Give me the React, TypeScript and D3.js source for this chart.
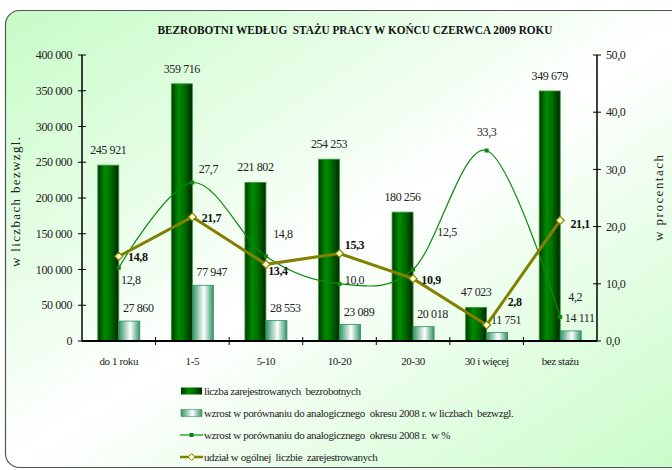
import * as d3 from 'd3';

// Bezrobotni według stażu pracy — bars (left axis) + two percentage lines (right axis).

const CATEGORIES = ['do 1 roku', '1-5', '5-10', '10-20', '20-30', '30 i więcej', 'bez stażu'];
const REGISTERED = [245921, 359716, 221802, 254253, 180256, 47023, 349679];
const INCREASE_ABS = [27860, 77947, 28553, 23089, 20018, 11751, 14111];
const INCREASE_PCT = [12.8, 27.7, 14.8, 10.0, 12.5, 33.3, 4.2];
const SHARE_PCT = [14.8, 21.7, 13.4, 15.3, 10.9, 2.8, 21.1];

const LEFT_TICKS = [0, 50000, 100000, 150000, 200000, 250000, 300000, 350000, 400000];
const RIGHT_TICKS = [0, 10, 20, 30, 40, 50];

const LEGEND_LABELS = [
  'liczba zarejestrowanych  bezrobotnych',
  'wzrost w porównaniu do analogicznego  okresu 2008 r. w liczbach  bezwzgl.',
  'wzrost w porównaniu do analogicznego  okresu 2008 r.  w %',
  'udział w ogólnej  liczbie  zarejestrowanych',
];

// label nudges (Excel placed them by hand), [dx, dy] from the point
const PCT_LABEL_OFFSETS = [[12, 12], [16, -14], [17, -23], [15, -4], [34, -38], [0, -19], [15, -20]];
const SHARE_LABEL_OFFSETS = [[19, 0], [19, 1], [12, 6], [15, -9], [18, 1], [28, -23], [20, 3]];

const W = 672;
const H = 470;
const M = { left: 82, right: 597, top: 55, bottom: 341 };

const FONT = '"Liberation Serif", "Times New Roman", serif';
const OLIVE = '#828000';
const LINE_GREEN = '#0a8a0a';
const TEXT = '#222';
const TIGHT = -0.4; // reference text is a bit condensed

const locale = d3.formatLocale({ decimal: ',', thousands: ' ', grouping: [3], currency: ['', ''] });
const fmtInt = locale.format(',d');
const fmtPct = locale.format('.1f');

export default function App() {
  const x = d3.scaleBand<string>().domain(CATEGORIES).range([M.left, M.right]);
  const sub = d3.scaleBand<string>().domain(['reg', 'inc']).range([-21, 21]);
  const yL = d3.scaleLinear().domain([0, 400000]).range([M.bottom, M.top]);
  const yR = d3.scaleLinear().domain([0, 50]).range([M.bottom, M.top]);
  const cx = (i: number) => (x(CATEGORIES[i]) ?? 0) + x.bandwidth() / 2;

  const pctLine = d3.line<number>()
    .x((_, i) => cx(i))
    .y((d) => yR(d))
    .curve(d3.curveCardinal.tension(0));
  const shareLine = d3.line<number>()
    .x((_, i) => cx(i))
    .y((d) => yR(d));

  const diamond = (px: number, py: number, r = 4) =>
    `M${px},${py - r}L${px + r},${py}L${px},${py + r}L${px - r},${py}Z`;

  const bw = sub.bandwidth();
  const legendY = [391, 413, 435, 457];

  return (
    <div style={{ position: 'absolute', left: 0, top: 0 }}>
      <svg width={W} height={H} style={{ display: 'block', fontFamily: FONT }}>
        <defs>
          <linearGradient id="bg" x1="0" y1="0" x2="1" y2="1">
            <stop offset="0" stopColor="#c6fcc6" />
            <stop offset="0.5" stopColor="#ffffff" />
            <stop offset="1" stopColor="#c6fcc6" />
          </linearGradient>
          <linearGradient id="darkBar" x1="0" y1="0" x2="1" y2="0">
            <stop offset="0" stopColor="#003a00" />
            <stop offset="0.35" stopColor="#008c00" />
            <stop offset="0.6" stopColor="#007000" />
            <stop offset="1" stopColor="#002800" />
          </linearGradient>
          <linearGradient id="lightBar" x1="0" y1="0" x2="1" y2="0">
            <stop offset="0" stopColor="#2f9466" />
            <stop offset="0.55" stopColor="#ffffff" />
            <stop offset="1" stopColor="#2f9466" />
          </linearGradient>
        </defs>

        <rect x={0} y={0} width={W} height={H} fill="#ffffff" />
        <rect x={5.5} y={10.5} width={700} height={457} rx={14} fill="url(#bg)" stroke="#555" strokeWidth={1.2} />

        <text x={355} y={34} textAnchor="middle" fontSize={13} fontWeight="bold" fill="#111"
          textLength={395} lengthAdjust="spacingAndGlyphs" style={{ whiteSpace: 'pre' }}>
          BEZROBOTNI WEDŁUG  STAŻU PRACY W KOŃCU CZERWCA 2009 ROKU
        </text>

        {/* bars */}
        {CATEGORIES.map((c, i) => (
          <g key={c}>
            <rect x={cx(i) + (sub('reg') ?? 0)} y={yL(REGISTERED[i])} width={bw}
              height={M.bottom - yL(REGISTERED[i])} fill="url(#darkBar)" stroke="#3a9a3a" strokeWidth={0.8} />
            <rect x={cx(i) + (sub('inc') ?? 0)} y={yL(INCREASE_ABS[i])} width={bw}
              height={M.bottom - yL(INCREASE_ABS[i])} fill="url(#lightBar)" stroke="#2f8f60" strokeWidth={0.8} />
          </g>
        ))}

        {/* axes */}
        <line x1={M.left} x2={M.left} y1={M.top} y2={M.bottom} stroke="#000" strokeWidth={1.5} />
        <line x1={M.right} x2={M.right} y1={M.top} y2={M.bottom} stroke="#000" strokeWidth={1.5} />
        <g letterSpacing={TIGHT}>
          {LEFT_TICKS.map((t) => (
            <g key={t}>
              <line x1={M.left - 4} x2={M.left + 4} y1={yL(t)} y2={yL(t)} stroke="#000" strokeWidth={1} />
              <text x={M.left - 10} y={yL(t)} dy="0.35em" textAnchor="end" fontSize={12} fill={TEXT}>{fmtInt(t)}</text>
            </g>
          ))}
          {RIGHT_TICKS.map((t) => (
            <g key={t}>
              <line x1={M.right - 4} x2={M.right + 4} y1={yR(t)} y2={yR(t)} stroke="#000" strokeWidth={1} />
              <text x={M.right + 9} y={yR(t)} dy="0.35em" textAnchor="start" fontSize={12} fill={TEXT}>{fmtPct(t)}</text>
            </g>
          ))}
        </g>
        <line x1={M.left} x2={M.right} y1={M.bottom} y2={M.bottom} stroke="#000" strokeWidth={2} />
        {CATEGORIES.slice(1).map((c) => (
          <line key={c} x1={x(c)} x2={x(c)} y1={M.bottom - 4} y2={M.bottom + 4} stroke="#000" strokeWidth={1} />
        ))}
        {CATEGORIES.map((c, i) => (
          <text key={c} x={cx(i)} y={361} dy="0.35em" textAnchor="middle" fontSize={11} fill={TEXT}
            letterSpacing={TIGHT}>{c}</text>
        ))}

        <text transform="translate(20,202) rotate(-90)" textAnchor="middle" fontSize={13} fill={TEXT}
          textLength={130} lengthAdjust="spacing">w liczbach bezwzgl.</text>
        <text transform="translate(663,198) rotate(-90)" textAnchor="middle" fontSize={13} fill={TEXT}
          textLength={86} lengthAdjust="spacing">w procentach</text>

        {/* bar value labels */}
        {CATEGORIES.map((c, i) => (
          <g key={c} fontSize={12} fill={TEXT} textAnchor="middle" letterSpacing={TIGHT}>
            <text x={cx(i) + (sub('reg') ?? 0) + bw / 2} y={yL(REGISTERED[i]) - 15.5} dy="0.35em">{fmtInt(REGISTERED[i])}</text>
            <text x={cx(i) + (sub('inc') ?? 0) + bw / 2 + 9} y={yL(INCREASE_ABS[i]) - 13} dy="0.35em">{fmtInt(INCREASE_ABS[i])}</text>
          </g>
        ))}

        {/* % increase line (smoothed) */}
        <path d={pctLine(INCREASE_PCT) ?? ''} fill="none" stroke={LINE_GREEN} strokeWidth={1.2} />
        {INCREASE_PCT.map((v, i) => (
          <rect key={i} x={cx(i) - 2} y={yR(v) - 2} width={4} height={4} fill={LINE_GREEN} />
        ))}

        {/* share line */}
        <path d={shareLine(SHARE_PCT) ?? ''} fill="none" stroke={OLIVE} strokeWidth={3} />
        {SHARE_PCT.map((v, i) => (
          <path key={i} d={diamond(cx(i), yR(v))} fill="#ffffc8" stroke={OLIVE} strokeWidth={1.2} />
        ))}

        <g letterSpacing={TIGHT}>
          {INCREASE_PCT.map((v, i) => (
            <text key={i} x={cx(i) + PCT_LABEL_OFFSETS[i][0]} y={yR(v) + PCT_LABEL_OFFSETS[i][1]} dy="0.35em"
              textAnchor="middle" fontSize={12} fill={TEXT}>{fmtPct(v)}</text>
          ))}
          {SHARE_PCT.map((v, i) => (
            <text key={i} x={cx(i) + SHARE_LABEL_OFFSETS[i][0]} y={yR(v) + SHARE_LABEL_OFFSETS[i][1]} dy="0.35em"
              textAnchor="middle" fontSize={12} fontWeight="bold" fill="#111">{fmtPct(v)}</text>
          ))}
        </g>

        {/* legend */}
        <g fontSize={11} fill={TEXT}>
          <rect x={181} y={legendY[0] - 3.5} width={21} height={7} fill="url(#darkBar)" />
          <rect x={181} y={legendY[1] - 3.5} width={21} height={7} fill="url(#lightBar)" stroke="#2f8f60" strokeWidth={0.6} />
          <line x1={180} x2={203} y1={legendY[2]} y2={legendY[2]} stroke={LINE_GREEN} strokeWidth={1.2} />
          <rect x={189.5} y={legendY[2] - 2} width={4} height={4} fill={LINE_GREEN} />
          <line x1={180} x2={203} y1={legendY[3]} y2={legendY[3]} stroke={OLIVE} strokeWidth={2.5} />
          <path d={diamond(191.5, legendY[3], 3.5)} fill="#ffffc8" stroke={OLIVE} strokeWidth={1} />
          {LEGEND_LABELS.map((l, i) => (
            <text key={l} x={204} y={legendY[i]} dy="0.35em" letterSpacing={TIGHT}
              style={{ whiteSpace: 'pre' }}>{l}</text>
          ))}
        </g>
      </svg>
    </div>
  );
}
